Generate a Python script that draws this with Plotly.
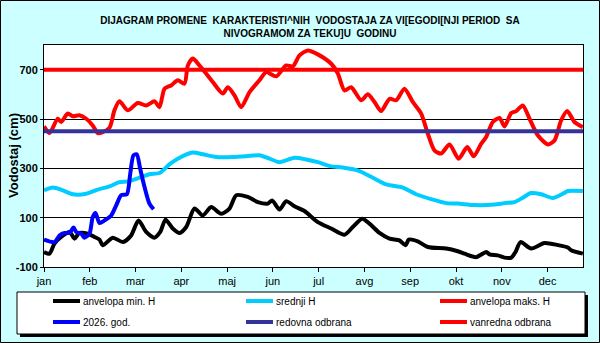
import plotly.graph_objects as go

# ---------------- data ----------------
months = ["jan", "feb", "mar", "apr", "maj", "jun", "jul", "avg", "sep", "okt", "nov", "dec"]
month_ticks = [0, 31, 62, 93, 124, 155, 186, 217, 248, 279, 310, 341]
y_ticks = [-100, 100, 300, 500, 700]

min_day = [0, 3.7, 7.1, 11.6, 17.3, 20.7, 24, 29.7, 34.2, 37.6, 39.8, 46.6, 53.4, 59, 64, 69.2, 74.8,
           78.7, 82.3, 87.2, 91.8, 96.3, 101.9, 107.5, 113.2, 120, 125.6, 130.2, 138, 144.8, 151.6,
           154.5, 159.5, 164, 169.6, 176.4, 185.4, 194.5, 203.5, 209.1, 215.5, 220.4, 227.2, 234,
           240.7, 244.8, 247, 253.1, 259.9, 272.4, 280.2, 284.8, 292.7, 299.5, 301.7, 307.3, 311.8,
           316.4, 319.3, 322.7, 329.9, 338.9, 347.9, 354.7, 357, 364.9]
min_h = [-39, -46, -5, 22, 42, 15, 38, 35, 22, 11, -12, 19, 1, 28, 89, 42, 19,
         42, 92, 56, 38, 62, 137, 109, 143, 116, 137, 191, 184, 163, 157,
         170, 133, 167, 146, 127, 82, 56, 31, 62, 96, 76, 38, 15,
         8, -12, 11, 4, -19, -25, -36, -46, -60, -39, -49, -53, -62,
         -62, -39, 1, -25, -3, -11, -21, -32, -46]

mean_day = [0, 6, 12.7, 19.5, 28.6, 36.4, 44.4, 51.1, 56.7, 64.7, 71.4, 78.2, 84.9, 90.6, 100.8,
            107.5, 116.6, 127.9, 136.9, 145.9, 152.7, 159.5, 169.6, 177.6, 185.4, 194.5, 202.3,
            213.6, 222.7, 231.7, 243, 252, 263.3, 272.4, 280.2, 291.5, 305.1, 311.8, 318.6, 324.2,
            329.9, 336.7, 344.5, 351.3, 354.7, 364.9]
mean_h = [211, 222, 211, 195, 197, 214, 227, 244, 247, 262, 276, 281, 316, 339, 364,
          357, 346, 346, 349, 353, 339, 325, 343, 336, 325, 308, 303,
          289, 262, 235, 222, 195, 173, 159, 157, 151, 153, 159, 163, 181,
          200, 195, 180, 197, 208, 208]

max_day = [0, 3.7, 9.3, 11.6, 16.1, 19.5, 24, 28.6, 33, 36.4, 39.8, 44.4, 47.7, 51.1, 56.7, 63.5,
           69.2, 74.8, 78.2, 81.6, 86.1, 90.6, 95.1, 97.4, 100.8, 105.3, 109.8, 114.3, 121.1, 124.5,
           129, 133.5, 139.2, 145.9, 150.5, 157.2, 164, 168.5, 173, 178.6, 185.4, 194.5, 199,
           203.5, 208, 214.8, 219.3, 223.8, 228.3, 234, 238.5, 244.1, 249.7, 255.4, 259.9, 264.4,
           269, 274.6, 280.8, 286.6, 291, 296.1, 299.4, 303.9, 308.5, 311.8, 316.4, 319.8, 324.2,
           328.8, 334.4, 341.2, 345.7, 350.2, 354.3, 359.2, 364.9]
max_h = [470, 443, 501, 488, 522, 511, 515, 501, 474, 443, 447, 465, 535, 572, 535, 565,
         555, 572, 548, 623, 636, 657, 643, 717, 745, 717, 684, 650, 603, 629,
         596, 548, 609, 657, 690, 673, 717, 713, 758, 778, 762, 724, 684,
         616, 629, 576, 600, 569, 532, 582, 576, 623, 569, 522, 441, 373,
         360, 397, 339, 386, 349, 400, 427, 488, 504, 470, 524, 532, 555,
         501, 434, 397, 413, 494, 532, 488, 467]

cur_day = [0, 7.1, 10.5, 13.9, 17.3, 20, 21.8, 25.2, 27.4, 30.8, 33, 34.9, 37.6, 41, 45.5, 48.9,
           52.3, 56.1, 58.4, 60.6, 62.8, 65.1, 68.1, 71.4, 74.2]
cur_h = [11, 1, 28, 38, 38, 60, 42, 35, 19, 35, 103, 119, 78, 89, 109, 150,
         191, 195, 278, 353, 357, 299, 224, 157, 134]

year_span = [0, 365]
redovna = [450, 450]
vanredna = [700, 700]

names = ["anvelopa min. H", "srednji H", "anvelopa maks. H",
         "2026. god.", "redovna odbrana", "vanredna odbrana"]
colors = ["#000000", "#00CCFF", "#FF0000", "#0000FF", "#333399", "#FF0000"]

# ---------------- figure ----------------
FONT = "Liberation Sans, Arial, sans-serif"
W, H = 600, 343
ML, MR, MT, MB = 44, 17, 45, 76
PW, PH = W - ML - MR, H - MT - MB


def px(x):
    return (x - ML) / PW


def py(y):
    return (H - MB - y) / PH


fig = go.Figure()
series = [(min_day, min_h), (mean_day, mean_h), (max_day, max_h), (cur_day, cur_h),
          (year_span, redovna), (year_span, vanredna)]
for (xs, ys), name, col in zip(series, names, colors):
    fig.add_trace(go.Scatter(x=xs, y=ys, name=name, mode="lines",
                             line=dict(color=col, width=4, shape="spline", smoothing=0.7),
                             showlegend=False, hoverinfo="skip"))

shapes = []
annotations = []

# outer border
shapes.append(dict(type="rect", xref="paper", yref="paper", x0=px(0.5), x1=px(599.5),
                   y0=py(342.5), y1=py(0.5), line=dict(color="black", width=1)))

# legend box with shadow
lx0, lx1, ly0, ly1 = 17, 585, 292, 334
shapes.append(dict(type="rect", xref="paper", yref="paper", x0=px(lx0 + 3), x1=px(lx1 + 3),
                   y0=py(ly1 + 3), y1=py(ly0 + 3), fillcolor="black", line=dict(width=0)))
shapes.append(dict(type="rect", xref="paper", yref="paper", x0=px(lx0), x1=px(lx1),
                   y0=py(ly1), y1=py(ly0), fillcolor="white", line=dict(color="black", width=1)))

col_x = [53, 246, 440]
row_y = [301, 322]
for i, (name, col) in enumerate(zip(names, colors)):
    cx = col_x[i % 3]
    ry = row_y[i // 3]
    shapes.append(dict(type="line", xref="paper", yref="paper", x0=px(cx), x1=px(cx + 27),
                       y0=py(ry), y1=py(ry), line=dict(color=col, width=4)))
    annotations.append(dict(xref="paper", yref="paper", x=px(cx + 28), y=py(ry), text=name,
                            showarrow=False, xanchor="left", yanchor="middle",
                            font=dict(family=FONT, size=10, color="black")))

# y axis title
annotations.append(dict(xref="paper", yref="paper", x=px(13), y=py(156), text="Vodostaj (cm)",
                        textangle=-90, showarrow=False, xanchor="center", yanchor="middle",
                        font=dict(family=FONT, size=13, color="black", weight="bold")))

fig.update_layout(
    width=W, height=H,
    margin=dict(l=ML, r=MR, t=MT, b=MB),
    paper_bgcolor="#CCFFFF",
    plot_bgcolor="white",
    title=dict(text="DIJAGRAM PROMENE \u00a0KARAKTERISTI^NIH \u00a0VODOSTAJA ZA VI[EGODI[NJI PERIOD \u00a0SA"
                    "<br>NIVOGRAMOM ZA TEKU]U \u00a0GODINU",
               xref="paper", x=px(310), xanchor="center",
               yref="container", y=1 - 23.5 / H, yanchor="middle",
               font=dict(family=FONT, size=10, color="black", weight="bold")),
    xaxis=dict(range=[0, 365], tickvals=month_ticks, ticktext=months,
               showgrid=False, zeroline=False, showline=True, linecolor="black", linewidth=1,
               mirror=True, ticks="outside", ticklen=4, tickcolor="black",
               tickfont=dict(family=FONT, size=11, color="black")),
    yaxis=dict(range=[-100, 800], tickvals=y_ticks, ticktext=[str(v) for v in y_ticks],
               showgrid=True, gridcolor="black", gridwidth=1, zeroline=False,
               showline=True, linecolor="black", linewidth=1, mirror=True,
               ticks="outside", ticklen=3, tickcolor="black",
               tickfont=dict(family=FONT, size=11, color="black", weight="bold")),
    shapes=shapes,
    annotations=annotations,
    showlegend=False,
)

fig.write_html("out.html")
